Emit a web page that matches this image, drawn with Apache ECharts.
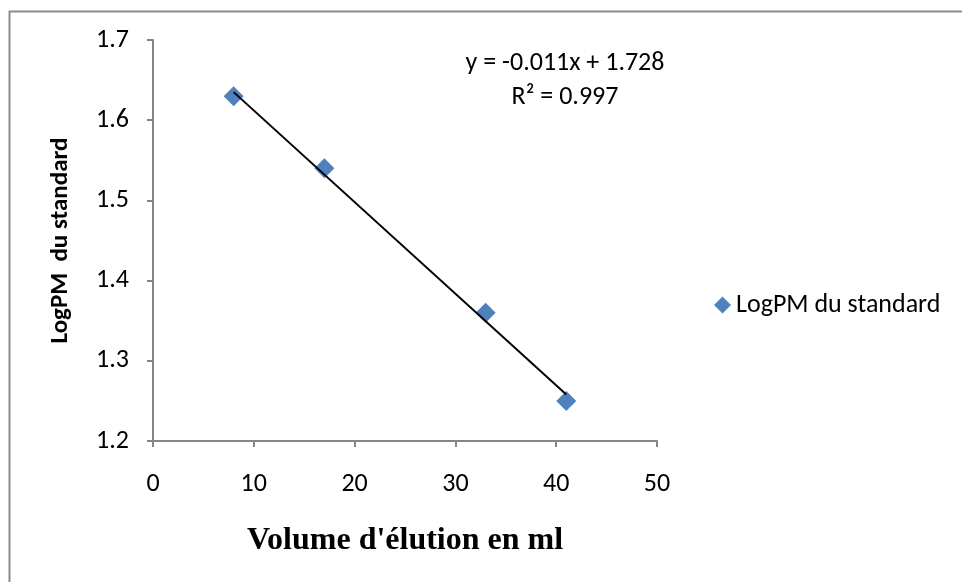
<!DOCTYPE html>
<html>
<head>
    <meta charset="utf-8">
    <title>LogPM du standard</title>
    <script src="https://cdn.jsdelivr.net/npm/echarts@6/dist/echarts.min.js"></script>
</head>
<body style="margin:0">
    <div id="chart" style="width: 962px;height:582px;"></div>
    <script type="text/javascript">
        // données
        var volumes = [8, 17, 33, 41];
        var logPM = [1.63, 1.54, 1.36, 1.25];
        // extrémités de la droite de tendance
        var trendX = [8, 41];
        var trendY = [1.635, 1.258];
        var equation = ['y = -0.011x + 1.728', 'R² = 0.997'];

        var font = 'Carlito, Lato, "Open Sans", sans-serif';
        var axisGray = '#868686';

        var option = {
            backgroundColor: '#fff',
            animation: false,
            grid: { left: 153, right: 305, top: 40, bottom: 141 },
            graphic: [
                {
                    type: 'rect',
                    shape: { x: 9.5, y: 11.5, width: 1000, height: 620 },
                    style: { fill: 'none', stroke: '#8c8c8c', lineWidth: 2 }
                },
                {
                    type: 'text', x: 565, y: 63,
                    style: { text: equation[0], font: '26px ' + font, fill: '#000', align: 'center', verticalAlign: 'middle' }
                },
                {
                    type: 'text', x: 565, y: 97,
                    style: { text: equation[1], font: '26px ' + font, fill: '#000', align: 'center', verticalAlign: 'middle' }
                }
            ],
            legend: {
                data: [{ name: 'LogPM du standard', icon: 'diamond' }],
                left: 709, top: 287,
                itemWidth: 17, itemHeight: 17, itemGap: 6,
                textStyle: { fontSize: 26, fontFamily: font, color: '#000' }
            },
            xAxis: {
                type: 'value', min: 0, max: 50, interval: 10,
                name: "Volume d'élution en ml",
                nameLocation: 'middle', nameGap: 84,
                nameTextStyle: { fontFamily: '"Liberation Serif", "Times New Roman", serif', fontWeight: 'bold', fontSize: 32, color: '#000' },
                axisLine: { lineStyle: { color: axisGray, width: 2 } },
                axisTick: { show: true, length: 6, lineStyle: { color: axisGray, width: 2 } },
                axisLabel: { fontSize: 26, fontFamily: font, color: '#000', margin: 30 },
                splitLine: { show: false }
            },
            yAxis: {
                type: 'value', min: 1.2, max: 1.7, interval: 0.1,
                name: 'LogPM  du standard',
                nameLocation: 'middle', nameGap: 80, nameRotate: 90,
                nameTextStyle: { fontFamily: font, fontWeight: 'bold', fontSize: 25, color: '#000' },
                axisLine: { show: true, lineStyle: { color: axisGray, width: 2 } },
                axisTick: { show: true, length: 6, lineStyle: { color: axisGray, width: 2 } },
                axisLabel: { fontSize: 26, fontFamily: font, color: '#000', margin: 24,
                    formatter: function (v) { return v.toFixed(1); } },
                splitLine: { show: false }
            },
            series: [
                {
                    name: 'trend',
                    type: 'line',
                    data: trendX.map(function (x, i) { return [x, trendY[i]]; }),
                    symbol: 'none',
                    lineStyle: { color: '#000', width: 2 },
                    z: 3
                },
                {
                    name: 'LogPM du standard',
                    type: 'scatter',
                    data: volumes.map(function (x, i) { return [x, logPM[i]]; }),
                    symbol: 'diamond',
                    symbolSize: 20,
                    itemStyle: { color: '#4F81BD', opacity: 1 },
                    z: 2
                }
            ]
        };

        var chart = echarts.init(document.getElementById('chart'));
        chart.setOption(option);
    </script>
</body>
</html>
